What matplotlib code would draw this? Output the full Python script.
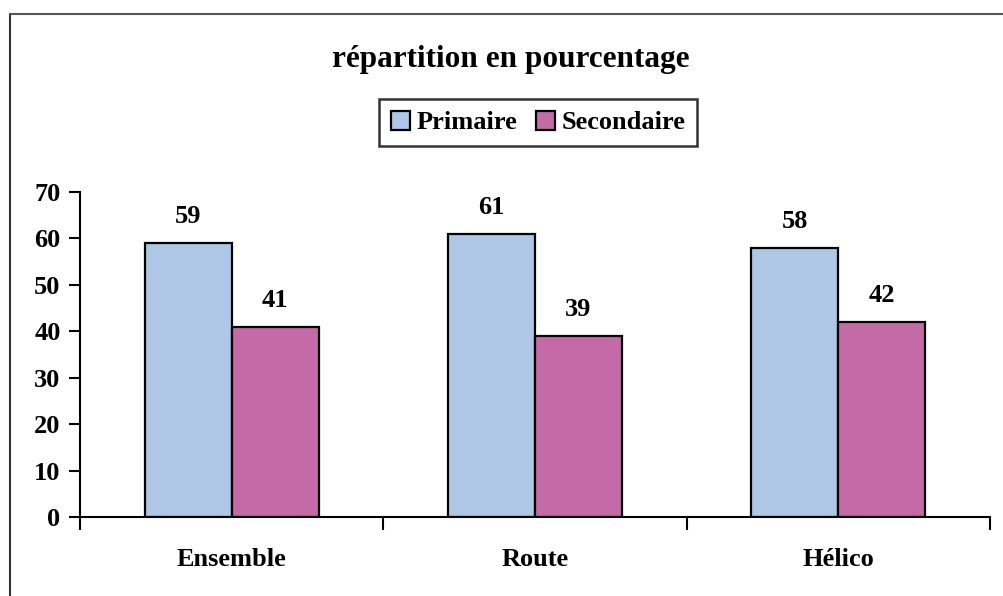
import matplotlib
matplotlib.use("Agg")
import matplotlib.pyplot as plt
from matplotlib.lines import Line2D
import numpy as np

categories = ["Ensemble", "Route", "Hélico"]
primaire = [59, 61, 58]
secondaire = [41, 39, 42]
series_names = ["Primaire", "Secondaire"]
yticks = [0, 10, 20, 30, 40, 50, 60, 70]

plt.rcParams['font.family'] = ['Liberation Serif', 'DejaVu Serif']
plt.rcParams['font.weight'] = 'bold'

FS = 19
fig = plt.figure(figsize=(10.04, 5.96), dpi=100)
W, H = 1004, 596
ax = fig.add_axes([80 / W, 1 - 517 / H, (990 - 80) / W, (517 - 192) / H])

x = np.arange(len(categories))
bw = 0.287
c1 = '#aec7e6'
c2 = '#c46aa6'
b1 = ax.bar(x - bw / 2, primaire, bw, color=c1, edgecolor='black', linewidth=1.6, label=series_names[0])
b2 = ax.bar(x + bw / 2, secondaire, bw, color=c2, edgecolor='black', linewidth=1.6, label=series_names[1])

for bars, vals in ((b1, primaire), (b2, secondaire)):
    for r, v in zip(bars, vals):
        ax.annotate(f"{v}", (r.get_x() + r.get_width() / 2, v), xytext=(0, 19),
                    textcoords='offset points', ha='center', va='center',
                    fontsize=FS, fontweight='bold')

ax.set_xlim(-0.5, len(categories) - 0.5)
ax.set_ylim(0, 70)
ax.set_yticks(yticks)
ax.set_yticklabels([str(t) for t in yticks], fontsize=FS, fontweight='bold')
ax.set_xticks(np.arange(len(categories) + 1) - 0.5)
ax.set_xticklabels([''] * (len(categories) + 1))
ax.set_xticks(x, minor=True)
ax.set_xticklabels(categories, minor=True, fontsize=FS, fontweight='bold')
ax.tick_params(axis='x', which='major', length=9, width=1.5, direction='out')
ax.tick_params(axis='x', which='minor', length=0, pad=22)
ax.tick_params(axis='y', length=8, width=1.5, direction='out', pad=6)
for s in ('top', 'right'):
    ax.spines[s].set_visible(False)
for s in ('left', 'bottom'):
    ax.spines[s].set_linewidth(1.5)

fig.text(511 / W, 1 - 60 / H, "répartition en pourcentage", ha='center', va='center',
         fontsize=22.5, fontweight='bold')

leg = fig.legend(handles=[b1, b2], labels=series_names, loc='center',
                 bbox_to_anchor=(538 / W, 1 - 122.5 / H), ncol=2, frameon=True,
                 fancybox=False, edgecolor='black', fontsize=FS,
                 handlelength=0.72, handleheight=0.72, handletextpad=0.25,
                 columnspacing=0.7, borderpad=0.45, borderaxespad=0)
leg.get_frame().set_linewidth(1.8)

fig.add_artist(Line2D([10 / W, 10 / W], [0, 1 - 14 / H], color='#333333', linewidth=1.5))
fig.add_artist(Line2D([10 / W, 1], [1 - 14 / H, 1 - 14 / H], color='#555555', linewidth=1.5))

fig.savefig("out.png", dpi=100)
